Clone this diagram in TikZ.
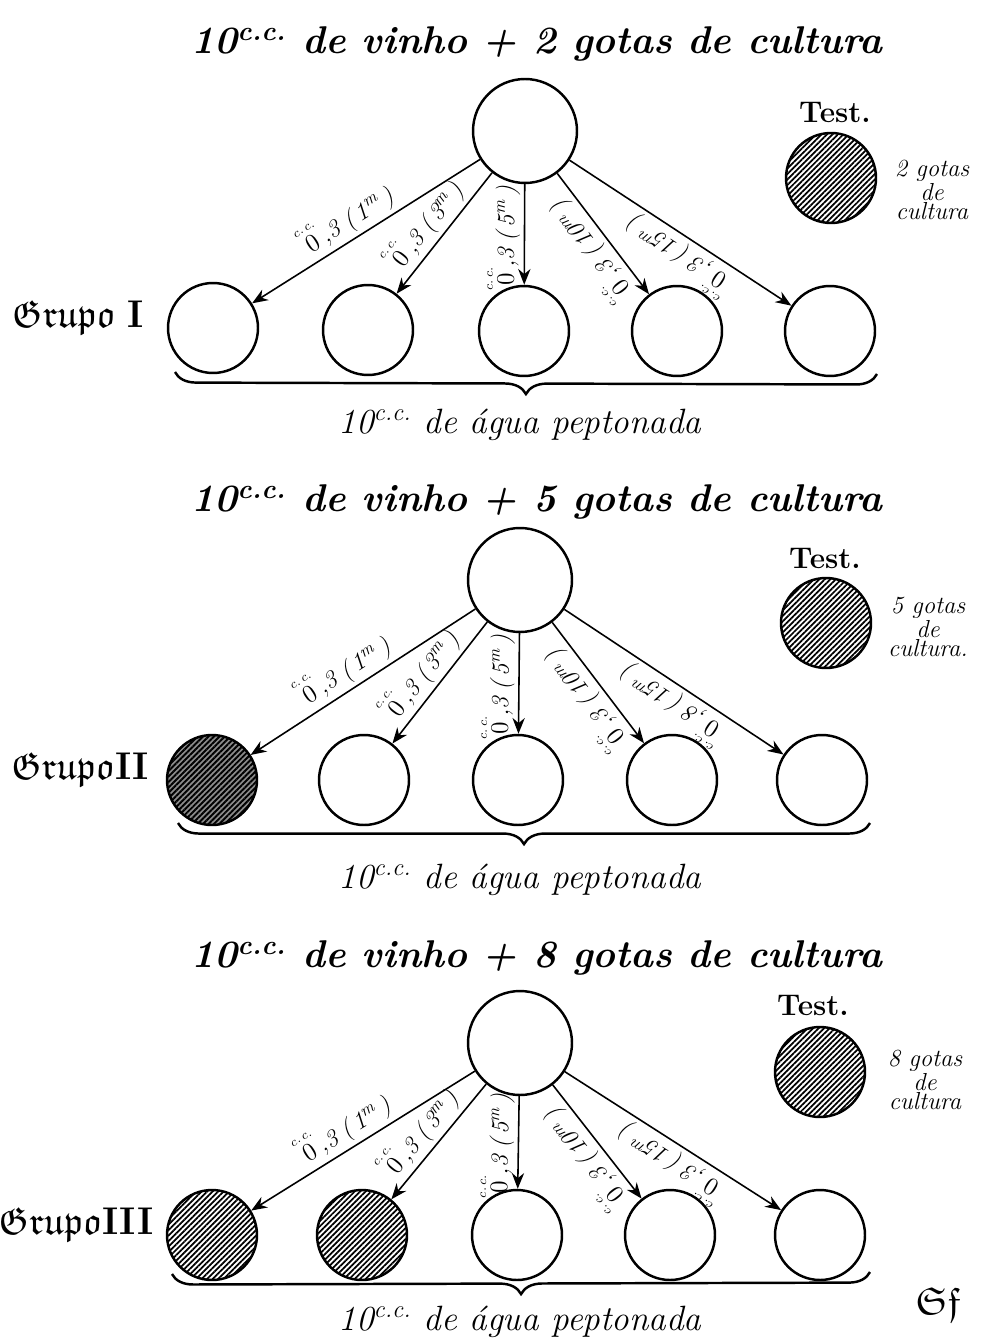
\documentclass[tikz,border=0pt]{standalone}
\usepackage{amsmath,amssymb}
\usetikzlibrary{arrows.meta,patterns.meta,decorations.pathreplacing}
\newcommand\dosis[2]{$\overset{\scriptscriptstyle c.\,c.}{0}$,#1\;(\,#2\textsuperscript{m}\,)}
\newcommand\tcc{\textsuperscript{c.c.}}
\tikzset{
  ring/.style={circle, draw, line width=1.4pt, inner sep=0pt},
  topc/.style={ring, minimum size=2.08cm},
  botc/.style={ring, minimum size=1.8cm},
  hatched/.style={pattern={Lines[angle=45,distance=2.2pt,line width=1pt]}},
  darkhatched/.style={preaction={fill=black!45}, pattern={Lines[angle=45,distance=2.2pt,line width=1.1pt]}},
  testc/.style={ring, minimum size=1.8cm, hatched},
  arr/.style={{Stealth[length=9pt,width=7pt]}-, line width=0.9pt},
  lab/.style={sloped, allow upside down, above, pos=0.46, inner sep=2pt, font=\itshape\fontsize{14}{14}\selectfont},
  titletxt/.style={font=\bfseries\itshape\fontsize{22}{27}\selectfont},
  basetxt/.style={font=\itshape\fontsize{20}{22}\selectfont},
  testtxt/.style={font=\bfseries\fontsize{17}{18}\selectfont},
  gotastxt/.style={align=center, font=\itshape\fontsize{14}{11}\selectfont},
  grupotxt/.style={font=\fontsize{22}{24}\selectfont},
  bracebelow/.style={decorate, decoration={brace, mirror, amplitude=12pt}, line width=1.4pt},
}
\begin{document}
\begin{tikzpicture}[x=0.02cm, y=-0.02cm]
\useasboundingbox (0,0) rectangle (990,1344);

% ---------------- Group I ----------------
\node[titletxt] (title1) at (537,44) {10\tcc\ de vinho + 2 gotas de cultura};
\node[topc] (t1) at (525,131) {};
\node[testtxt] (test1) at (835,112) {Test.};
\node[testc] (tc1) at (831,178) {};
\node[gotastxt] (g1) at (932,190) {2 gotas\\de\\cultura};
\node[botc] (a1) at (213,328) {};
\node[botc] (a2) at (368,330) {};
\node[botc] (a3) at (524,331) {};
\node[botc] (a4) at (677,331) {};
\node[botc] (a5) at (830,331) {};
\node[grupotxt] (gr1) at (78,318) {$\mathfrak{Grupo}$ \textbf{I}};
\draw[arr] (a1) -- node[lab] {\dosis{3}{1}} (t1);
\draw[arr] (a2) -- node[lab] {\dosis{3}{3}} (t1);
\draw[arr] (a3) -- node[lab] {\dosis{3}{5}} (t1);
\draw[arr] (a4) -- node[lab] {\dosis{3}{10}} (t1);
\draw[arr] (a5) -- node[lab] {\dosis{3}{15}} (t1);
\coordinate (bl1) at (175,372);
\coordinate (br1) at (877,374);
\draw[bracebelow] (bl1) -- (br1);
\node[basetxt] (w1) at (520,425) {10\tcc\ de água peptonada};

% ---------------- Group II ----------------
\node[titletxt] (title2) at (537,502) {10\tcc\ de vinho + 5 gotas de cultura};
\node[topc] (t2) at (520,580) {};
\node[testtxt] (test2) at (825,558) {Test.};
\node[testc] (tc2) at (826,623) {};
\node[gotastxt] (g2) at (928,627) {5 gotas\\de\\cultura.};
\node[botc, darkhatched] (b1) at (212,780) {};
\node[botc] (b2) at (364,780) {};
\node[botc] (b3) at (518,780) {};
\node[botc] (b4) at (672,780) {};
\node[botc] (b5) at (822,780) {};
\node[grupotxt] (gr2) at (80,770) {$\mathfrak{Grupo}$\textbf{II}};
\draw[arr] (b1) -- node[lab] {\dosis{3}{1}} (t2);
\draw[arr] (b2) -- node[lab] {\dosis{3}{3}} (t2);
\draw[arr] (b3) -- node[lab] {\dosis{3}{5}} (t2);
\draw[arr] (b4) -- node[lab] {\dosis{3}{10}} (t2);
\draw[arr] (b5) -- node[lab] {\dosis{8}{15}} (t2);
\coordinate (bl2) at (178,823);
\coordinate (br2) at (870,823);
\draw[bracebelow] (bl2) -- (br2);
\node[basetxt] (w2) at (520,880) {10\tcc\ de água peptonada};

% ---------------- Group III ----------------
\node[titletxt] (title3) at (537,958) {10\tcc\ de vinho + 8 gotas de cultura};
\node[topc] (t3) at (520,1043) {};
\node[testtxt] (test3) at (813,1005) {Test.};
\node[testc] (tc3) at (820,1072) {};
\node[gotastxt] (g3) at (925,1080) {8 gotas\\de\\cultura};
\node[botc, hatched] (c1) at (212,1235) {};
\node[botc, hatched] (c2) at (362,1235) {};
\node[botc] (c3) at (517,1235) {};
\node[botc] (c4) at (670,1235) {};
\node[botc] (c5) at (820,1235) {};
\node[grupotxt] (gr3) at (76,1225) {$\mathfrak{Grupo}$\textbf{III}};
\draw[arr] (c1) -- node[lab] {\dosis{3}{1}} (t3);
\draw[arr] (c2) -- node[lab] {\dosis{3}{3}} (t3);
\draw[arr] (c3) -- node[lab] {\dosis{3}{5}} (t3);
\draw[arr] (c4) -- node[lab] {\dosis{3}{10}} (t3);
\draw[arr] (c5) -- node[lab] {\dosis{3}{15}} (t3);
\coordinate (bl3) at (172,1274);
\coordinate (br3) at (870,1272);
\draw[bracebelow] (bl3) -- (br3);
\node[basetxt] (w3) at (520,1322) {10\tcc\ de água peptonada};

\node[font=\fontsize{22}{22}\selectfont] (sig) at (938,1305) {$\mathfrak{Sf}$};
\end{tikzpicture}
\end{document}
